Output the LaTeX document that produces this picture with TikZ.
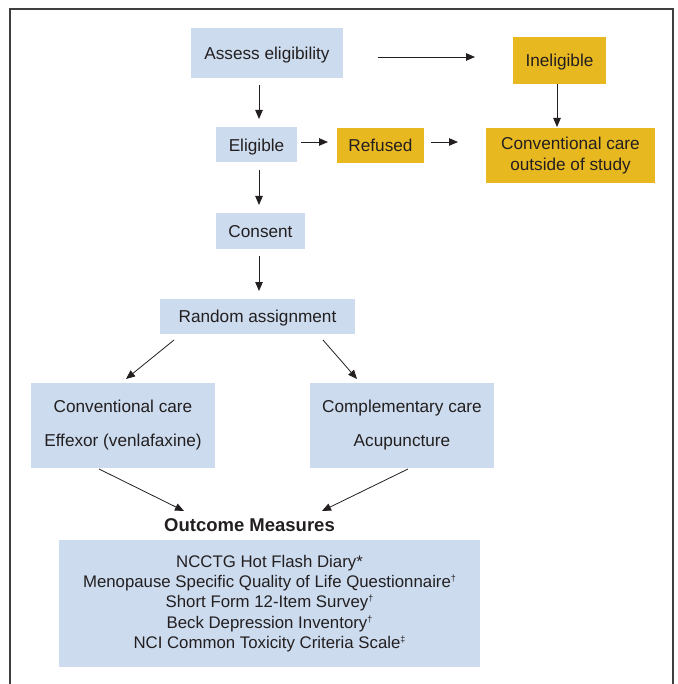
\documentclass[tikz,border=0pt]{standalone}
\usepackage{fontspec}
\setmainfont{Liberation Sans}
\usetikzlibrary{arrows.meta}
\definecolor{boxblue}{HTML}{CCDBEE}
\definecolor{boxgold}{HTML}{E8B820}
\definecolor{txt}{HTML}{231F20}
\definecolor{frame}{HTML}{3F3F3F}
\newcommand{\dg}{\raisebox{0.35em}{\fontsize{9}{9}\selectfont\dag}}
\newcommand{\ddg}{\raisebox{0.35em}{\fontsize{9}{9}\selectfont\ddag}}
\begin{document}
\begin{tikzpicture}[x=1pt,y=-1pt,
  bluebox/.style={fill=boxblue,inner sep=0pt,font=\fontsize{17.2}{20.5}\selectfont,text=txt},
  goldbox/.style={fill=boxgold,inner sep=0pt,font=\fontsize{17.2}{20.5}\selectfont,text=txt},
  oneline/.style={text height=14.5pt,text depth=2pt},
  multi/.style={align=center},
  arr/.style={draw=txt,line width=0.8pt,-{Triangle[length=9pt,width=7.5pt]}}]
\useasboundingbox (0,0) rectangle (677,684);
\draw[frame,line width=1.6pt] (10,700) -- (10,9) -- (673,9) -- (673,700);
% nodes
\node[bluebox,oneline,minimum width=152pt,minimum height=50pt] (assess) at (267,53) {Assess eligibility};
\node[goldbox,oneline,minimum width=93pt,minimum height=47pt] (inel) at (559.5,60.5) {Ineligible};
\node[goldbox,multi,minimum width=169pt,minimum height=55pt] (conv) at (570.5,155.5) {Conventional care\\outside of study};
\node[bluebox,oneline,minimum width=81pt,minimum height=35pt] (elig) at (256.5,145) {Eligible};
\node[goldbox,oneline,minimum width=87pt,minimum height=35pt] (ref) at (380.5,145.5) {Refused};
\node[bluebox,oneline,minimum width=89pt,minimum height=36pt] (cons) at (260.5,231) {Consent};
\node[bluebox,oneline,minimum width=195pt,minimum height=35pt] (rand) at (257.5,316.5) {Random assignment};
\node[bluebox,multi,minimum width=184pt,minimum height=85pt,font=\fontsize{17.2}{34}\selectfont] (cc) at (123,425.5) {Conventional care\\Effexor (venlafaxine)};
\node[bluebox,multi,minimum width=184pt,minimum height=85pt,font=\fontsize{17.2}{34}\selectfont] (comp) at (402,425.5) {Complementary care\\Acupuncture};
\node[font=\bfseries\fontsize{18.5}{20}\selectfont,text=txt,inner sep=0pt] (om) at (249.5,525.5) {Outcome Measures};
\node[bluebox,multi,minimum width=421pt,minimum height=127pt,font=\fontsize{16.8}{20.4}\selectfont] (list) at (269.5,603.5) {NCCTG Hot Flash Diary*\\Menopause Specific Quality of Life Questionnaire\dg\\Short Form 12-Item Survey\dg\\Beck Depression Inventory\dg\\NCI Common Toxicity Criteria Scale\ddg};
% connector end points
\coordinate (a1) at (378,57); \coordinate (a2) at (475,57);
\coordinate (i1) at (557,84); \coordinate (i2) at (557,127);
\coordinate (e0) at (259,85); \coordinate (e1) at (259,119);
\coordinate (f1) at (301,142); \coordinate (f2) at (328,142);
\coordinate (r1) at (431,142); \coordinate (r2) at (458,142);
\coordinate (c1) at (259,170); \coordinate (c2) at (259,205);
\coordinate (d1) at (259,256); \coordinate (d2) at (259,291);
\coordinate (ra1) at (174,340); \coordinate (ra2) at (126,379);
\coordinate (rb1) at (323,340); \coordinate (rb2) at (357,379);
\coordinate (ca) at (99,469); \coordinate (cb) at (408,469);
\coordinate (oa) at (184,511); \coordinate (ob) at (322,511);
% connectors
\draw[arr] (a1) -- (a2);
\draw[arr] (i1) -- (i2);
\draw[arr] (e0) -- (e1);
\draw[arr] (f1) -- (f2);
\draw[arr] (r1) -- (r2);
\draw[arr] (c1) -- (c2);
\draw[arr] (d1) -- (d2);
\draw[arr] (ra1) -- (ra2);
\draw[arr] (rb1) -- (rb2);
\draw[arr] (ca) -- (oa);
\draw[arr] (cb) -- (ob);
\end{tikzpicture}
\end{document}
